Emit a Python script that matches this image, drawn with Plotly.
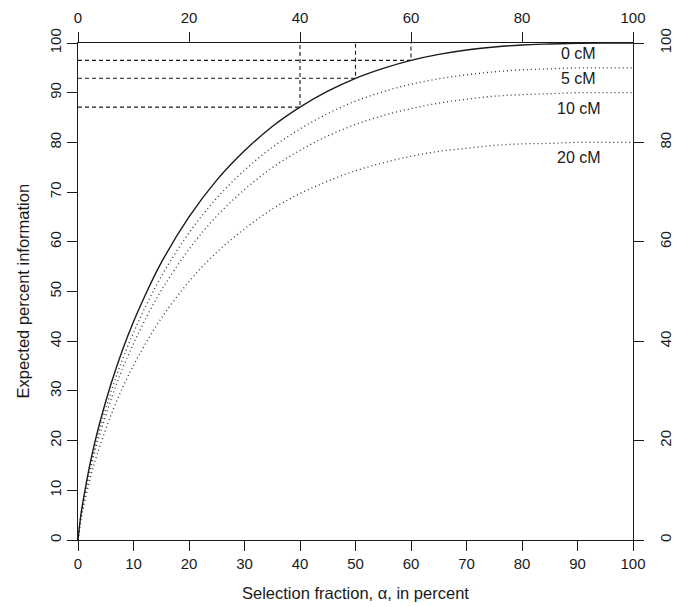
import plotly.graph_objects as go

# Selection fraction (percent)
alpha = [0, 0.5, 1, 2, 3, 4, 6, 8, 10, 12, 15, 20, 25, 30, 35, 40, 45, 50, 55, 60, 65, 70, 75, 80, 85, 90, 95, 100]

# Expected percent information
info_0cM = [0, 4.9, 8.4, 14.4, 19.5, 23.9, 31.6, 38.2, 43.9, 49.0, 55.8, 65.0, 72.4, 78.3, 83.2, 87.1, 90.3, 92.9, 94.9, 96.5, 97.7, 98.6, 99.2, 99.6, 99.8, 99.95, 100, 100]
info_5cM = [0, 4.7, 8.0, 13.7, 18.5, 22.7, 30.0, 36.3, 41.7, 46.6, 53.0, 61.8, 68.8, 74.4, 79.0, 82.7, 85.8, 88.3, 90.2, 91.7, 92.8, 93.6, 94.2, 94.6, 94.8, 95.0, 95.0, 95.0]
info_10cM = [0, 4.4, 7.6, 13.0, 17.6, 21.5, 28.4, 34.4, 39.5, 44.1, 50.2, 58.5, 65.2, 70.5, 74.9, 78.4, 81.3, 83.6, 85.4, 86.8, 87.9, 88.7, 89.3, 89.6, 89.8, 90.0, 90.0, 90.0]
info_20cM = [0, 3.9, 6.7, 11.5, 15.6, 19.1, 25.3, 30.6, 35.1, 39.2, 44.6, 52.0, 57.9, 62.6, 66.6, 69.7, 72.2, 74.3, 75.9, 77.2, 78.2, 78.8, 79.4, 79.7, 79.8, 80.0, 80.0, 80.0]

# Reference (dashed) read-offs
ref_alpha = [40, 50, 60]
ref_info = [87.1, 92.9, 96.5]

# Curve labels
curve_labels = ["0 cM", "5 cM", "10 cM", "20 cM"]
label_x = [90.2, 90.2, 90.2, 90.2]
label_y = [97.8, 92.8, 86.9, 77.0]

bottom_ticks = list(range(0, 101, 10))
side_ticks = list(range(0, 101, 20))

FONT = "Liberation Sans, Arial, Helvetica, sans-serif"
INK = "#1a1a1a"

fig = go.Figure()

# dashed reference lines
for a, v in zip(ref_alpha, ref_info):
    fig.add_trace(go.Scatter(x=[0, a, a], y=[v, v, 100], mode="lines",
                             line=dict(color=INK, width=1.1, dash="4px,3px"),
                             showlegend=False, hoverinfo="skip"))

for ys in (info_5cM, info_10cM, info_20cM):
    fig.add_trace(go.Scatter(x=alpha, y=ys, mode="lines", line_shape="spline",
                             line=dict(color="#333333", width=1.3, dash="1px,3px"),
                             showlegend=False))

fig.add_trace(go.Scatter(x=alpha, y=info_0cM, mode="lines", line_shape="spline",
                         line=dict(color=INK, width=1.4), showlegend=False))

# invisible trace for secondary axes
fig.add_trace(go.Scatter(x=[0, 100], y=[0, 100], xaxis="x2", yaxis="y2",
                         mode="lines", line=dict(width=0), opacity=0,
                         showlegend=False, hoverinfo="skip"))

for t, x, y in zip(curve_labels, label_x, label_y):
    fig.add_annotation(x=x, y=y, text=t, showarrow=False,
                       font=dict(family=FONT, size=16, color=INK))

axis_common = dict(showgrid=False, zeroline=False, showline=True, linecolor=INK,
                   linewidth=1.2, ticks="outside", ticklen=10, tickwidth=1.2,
                   tickcolor=INK, range=[0, 100], automargin=False,
                   tickfont=dict(family=FONT, size=15, color=INK))

fig.update_layout(
    width=690, height=607,
    margin=dict(l=78, r=57, t=43, b=67),
    paper_bgcolor="white", plot_bgcolor="white",
    xaxis=dict(**axis_common, tickvals=bottom_ticks, side="bottom"),
    yaxis=dict(**axis_common, tickvals=bottom_ticks, tickangle=-90, side="left"),
    xaxis2=dict(**axis_common, tickvals=side_ticks, side="top", overlaying="x", anchor="y",
                ticklabelstandoff=3),
    yaxis2=dict(**axis_common, tickvals=side_ticks, tickangle=-90, side="right", overlaying="y", anchor="x",
                ticklabelstandoff=9),
)

fig.add_annotation(xref="paper", yref="paper", x=0.5, y=0, yshift=-53, yanchor="middle",
                   text="Selection fraction, \u03b1, in percent", showarrow=False,
                   font=dict(family=FONT, size=16.5, color=INK))
fig.add_annotation(xref="paper", yref="paper", x=0, xshift=-56, y=0.5, textangle=-90,
                   xanchor="center", text="Expected percent information", showarrow=False,
                   font=dict(family=FONT, size=16.5, color=INK))

fig.write_html("out.html", config={"displayModeBar": False},
               post_script="document.body.style.margin='0';document.body.style.overflow='hidden';")
